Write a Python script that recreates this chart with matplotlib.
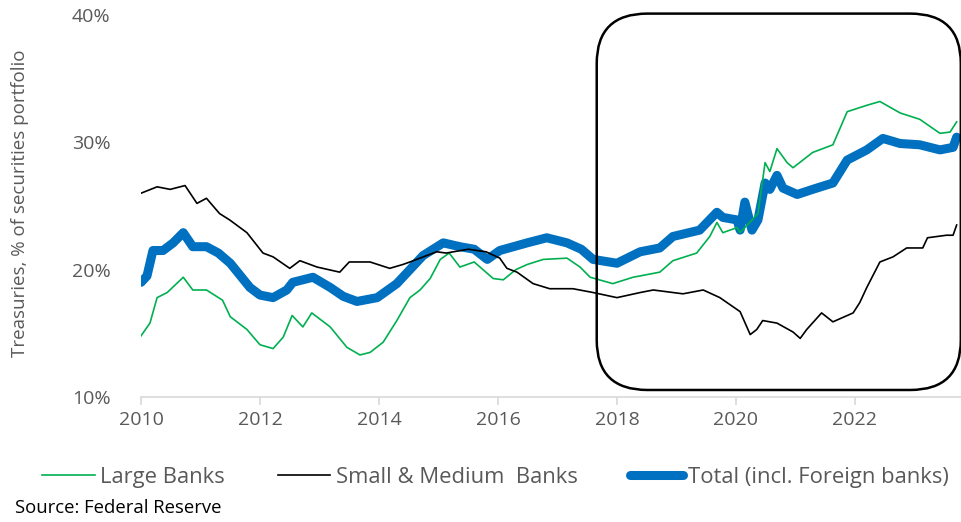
import matplotlib
matplotlib.use("Agg")
import matplotlib.pyplot as plt
from matplotlib.patches import FancyBboxPatch
from matplotlib.ticker import FuncFormatter

plt.rcParams['font.family'] = ['Open Sans', 'DejaVu Sans']

# Total (incl. Foreign banks)
total_x = [2010.0, 2010.1, 2010.2, 2010.37, 2010.54, 2010.71, 2010.87, 2011.1, 2011.3, 2011.5,
           2011.83, 2012.0, 2012.22, 2012.45, 2012.55, 2012.89, 2013.18, 2013.4, 2013.63, 2013.97,
           2014.3, 2014.52, 2014.74, 2015.08, 2015.36, 2015.6, 2015.82, 2016.03, 2016.49, 2016.82,
           2017.16, 2017.4, 2017.6, 2018.0, 2018.39, 2018.72, 2018.94, 2019.39, 2019.68, 2019.78,
           2020.02, 2020.07, 2020.15, 2020.27, 2020.37, 2020.49, 2020.57, 2020.69, 2020.79, 2021.03,
           2021.29, 2021.63, 2021.87, 2022.2, 2022.47, 2022.76, 2023.09, 2023.43, 2023.65, 2023.71]
total_y = [19.0, 19.5, 21.5, 21.5, 22.1, 22.9, 21.8, 21.8, 21.3, 20.5,
           18.6, 18.0, 17.8, 18.4, 19.0, 19.4, 18.6, 17.9, 17.5, 17.8,
           18.9, 20.0, 21.1, 22.1, 21.8, 21.6, 20.8, 21.5, 22.1, 22.5,
           22.1, 21.6, 20.8, 20.5, 21.4, 21.7, 22.6, 23.1, 24.5, 24.1,
           23.9, 23.1, 25.3, 23.1, 23.9, 26.8, 26.3, 27.4, 26.4, 25.9,
           26.3, 26.8, 28.6, 29.4, 30.3, 29.9, 29.8, 29.4, 29.6, 30.4]

# Large Banks
large_x = [2010.0, 2010.15, 2010.27, 2010.44, 2010.71, 2010.87, 2011.1, 2011.37, 2011.5, 2011.78,
           2012.0, 2012.22, 2012.39, 2012.54, 2012.72, 2012.87, 2013.18, 2013.46, 2013.68, 2013.85,
           2014.07, 2014.3, 2014.52, 2014.69, 2014.86, 2015.03, 2015.18, 2015.36, 2015.6, 2015.92,
           2016.09, 2016.3, 2016.49, 2016.76, 2017.16, 2017.38, 2017.55, 2017.93, 2018.27, 2018.72,
           2018.94, 2019.34, 2019.56, 2019.68, 2019.78, 2020.02, 2020.07, 2020.37, 2020.49, 2020.57,
           2020.69, 2020.86, 2020.96, 2021.29, 2021.63, 2021.87, 2022.2, 2022.42, 2022.76, 2023.09,
           2023.43, 2023.6, 2023.71]
large_y = [14.8, 15.8, 17.8, 18.2, 19.4, 18.4, 18.4, 17.6, 16.3, 15.3,
           14.1, 13.8, 14.7, 16.4, 15.5, 16.6, 15.5, 13.9, 13.3, 13.5,
           14.3, 16.0, 17.8, 18.4, 19.3, 20.8, 21.3, 20.2, 20.6, 19.3,
           19.2, 20.0, 20.4, 20.8, 20.9, 20.2, 19.4, 18.9, 19.4, 19.8,
           20.7, 21.3, 22.6, 23.7, 22.9, 23.3, 22.9, 24.4, 28.4, 27.7,
           29.5, 28.4, 28.0, 29.2, 29.8, 32.4, 32.9, 33.2, 32.3, 31.8,
           30.7, 30.8, 31.6]

# Small & Medium Banks
small_x = [2010.0, 2010.27, 2010.49, 2010.74, 2010.94, 2011.1, 2011.32, 2011.49, 2011.78, 2012.05,
           2012.22, 2012.5, 2012.67, 2012.96, 2013.34, 2013.5, 2013.85, 2014.18, 2014.4, 2014.52,
           2014.97, 2015.13, 2015.5, 2015.8, 2016.03, 2016.15, 2016.32, 2016.59, 2016.87, 2017.26,
           2017.6, 2018.0, 2018.39, 2018.61, 2019.11, 2019.45, 2019.73, 2020.07, 2020.24, 2020.35,
           2020.45, 2020.69, 2020.96, 2021.08, 2021.19, 2021.44, 2021.63, 2021.97, 2022.08, 2022.2,
           2022.42, 2022.64, 2022.87, 2023.14, 2023.22, 2023.54, 2023.65, 2023.71]
small_y = [26.0, 26.5, 26.3, 26.6, 25.2, 25.6, 24.4, 23.9, 22.9, 21.3,
           21.0, 20.1, 20.7, 20.2, 19.8, 20.6, 20.6, 20.1, 20.4, 20.6,
           21.4, 21.3, 21.6, 21.4, 20.9, 20.1, 19.8, 18.9, 18.5, 18.5,
           18.2, 17.8, 18.2, 18.4, 18.1, 18.4, 17.8, 16.7, 14.9, 15.3,
           16.0, 15.8, 15.1, 14.6, 15.3, 16.6, 15.9, 16.6, 17.4, 18.6,
           20.6, 21.0, 21.7, 21.7, 22.5, 22.7, 22.7, 23.5]

year_ticks = [2010, 2012, 2014, 2016, 2018, 2020, 2022]
pct_ticks = [10, 20, 30, 40]

gray = '#595959'

fig = plt.figure(figsize=(9.62, 5.22), dpi=100)
ax = fig.add_axes([0.1466, 0.2395, 0.8534, 0.732])

ax.plot(total_x, total_y, color='#0070C0', lw=6.5, solid_capstyle='round',
        solid_joinstyle='round', label='Total (incl. Foreign banks)', zorder=2)
ax.plot(large_x, large_y, color='#00B050', lw=1.2, label='Large Banks', zorder=3)
ax.plot(small_x, small_y, color='black', lw=1.2, label='Small & Medium  Banks', zorder=4)

ax.set_xlim(2010, 2023.8)
ax.set_ylim(10, 40)
ax.set_xticks(year_ticks)
ax.set_yticks(pct_ticks)
ax.yaxis.set_major_formatter(FuncFormatter(lambda v, p: f'{v:.0f}%'))

for s in ['top', 'right', 'left']:
    ax.spines[s].set_visible(False)
ax.spines['bottom'].set_color('#d9d9d9')
ax.spines['bottom'].set_linewidth(1.2)
ax.tick_params(axis='x', colors='#d9d9d9', length=6, width=1.2, labelcolor=gray,
               labelsize=14, pad=4)
ax.tick_params(axis='y', length=0, labelcolor=gray, labelsize=14, pad=22)

fig.text(0.021, 0.61, 'Treasuries, % of securities portfolio', rotation=90,
         ha='center', va='center', fontsize=13.5, color=gray)

# rounded box around 2018 onwards
box = FancyBboxPatch((2017.66, 10.55), 6.12, 29.55,
                     boxstyle='round,pad=0,rounding_size=0.85',
                     mutation_aspect=4.6, fill=False, ec='black', lw=1.8,
                     clip_on=False, zorder=5)
ax.add_patch(box)

h, l = ax.get_legend_handles_labels()
order = [1, 2, 0]
fig.legend([h[i] for i in order], [l[i] for i in order], loc='center left',
           bbox_to_anchor=(42 / 962, 0.086), ncol=3, frameon=False, fontsize=15.8,
           handlelength=2.4, handletextpad=0.25, columnspacing=2.4,
           borderpad=0, borderaxespad=0, labelcolor=gray)

fig.text(0.016, 0.027, 'Source: Federal Reserve', fontsize=13.3, color='black',
         ha='left', va='center')

fig.savefig('out.png', dpi=100)
